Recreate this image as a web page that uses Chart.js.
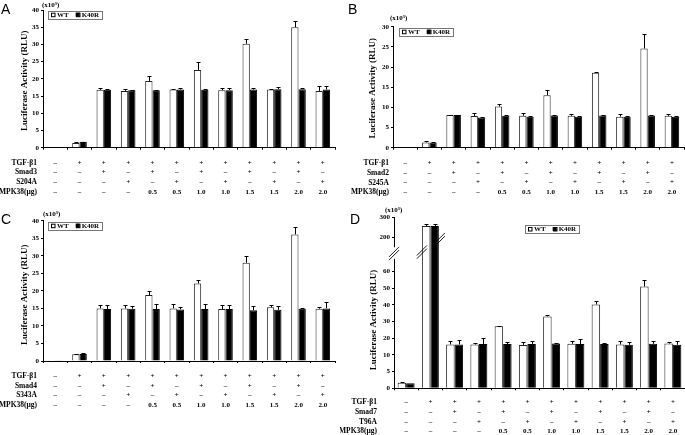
<!DOCTYPE html>
<html>
<head>
<meta charset="utf-8">
<script src="https://cdn.jsdelivr.net/npm/chart.js@4.4.1/dist/chart.umd.min.js"></script>
<style>
  html, body { margin: 0; padding: 0; background: #fff; }
  body { width: 685px; height: 435px; position: relative; overflow: hidden; }
  canvas { position: absolute; }
  .letter { position: absolute; font: 14px "Liberation Sans", Arial, sans-serif; line-height: 14px; color: #000; }
</style>
</head>
<body>
<canvas id="chartA" width="340" height="205" style="left:0;top:0"></canvas>
<canvas id="chartB" width="345" height="205" style="left:340px;top:0"></canvas>
<canvas id="chartC" width="340" height="230" style="left:0;top:205px"></canvas>
<canvas id="chartD" width="345" height="230" style="left:340px;top:205px"></canvas>
<div class="letter" style="left:1px;top:2px">A</div>
<div class="letter" style="left:348px;top:2px">B</div>
<div class="letter" style="left:1px;top:212px">C</div>
<div class="letter" style="left:350px;top:212px">D</div>
<script>
const SERIF = '"Liberation Serif", "Times New Roman", serif';
const TICK_SIZE = 7;
const ROW_LH = 9.7;

// condition table (same pattern in every panel)
const TGF_ROW  = ['–','+','+','+','+','+','+','+','+','+','+','+'];
const SMAD_ROW = ['–','–','+','–','+','–','+','–','+','–','+','–'];
const MUT_ROW  = ['–','–','–','+','–','+','–','+','–','+','–','+'];
const MPK_ROW  = ['–','–','–','–','0.5','0.5','1.0','1.0','1.5','1.5','2.0','2.0'];

const ROWS_A = ['TGF-β1', 'Smad3', 'S204A', 'MPK38(μg)'];
const ROWS_B = ['TGF-β1', 'Smad2', 'S245A', 'MPK38(μg)'];
const ROWS_C = ['TGF-β1', 'Smad4', 'S343A', 'MPK38(μg)'];
const ROWS_D = ['TGF-β1', 'Smad7', 'T96A',  'MPK38(μg)'];

// panel A
const wtA      = [0.1, 1.4, 16.8, 16.5, 19.4, 16.9, 22.6, 16.7, 30.2, 16.9, 35.0, 16.5];
const wtAErr   = [0, 0.2, 0.5, 0.5, 1.3, 0.2, 2.2, 0.7, 1.5, 0.2, 1.7, 1.3];
const k40rA    = [0.1, 1.7, 16.8, 16.7, 16.7, 16.9, 16.8, 16.7, 16.9, 17.0, 17.0, 16.9];
const k40rAErr = [0, 0.1, 0.3, 0.2, 0.2, 0.3, 0.3, 0.6, 0.3, 0.7, 0.4, 0.9];

// panel B
const wtB      = [0.05, 1.3, 8.1, 7.85, 10.2, 7.9, 13.0, 7.9, 18.6, 7.7, 24.6, 7.9];
const wtBErr   = [0, 0.25, 0.1, 0.8, 0.6, 0.7, 1.3, 0.4, 0.15, 0.6, 3.7, 0.4];
const k40rB    = [0.05, 1.3, 8.1, 7.5, 7.9, 7.7, 8.0, 7.7, 8.0, 7.7, 8.0, 7.7];
const k40rBErr = [0, 0.2, 0.1, 0.1, 0.1, 0.2, 0.1, 0.1, 0.1, 0.1, 0.1, 0.1];

// panel C
const wtC      = [0.05, 1.9, 15.0, 15.0, 18.8, 15.0, 22.1, 14.8, 28.0, 15.3, 36.1, 14.9];
const wtCErr   = [0, 0.1, 1.0, 1.0, 1.1, 1.15, 0.9, 1.1, 1.8, 0.6, 2.2, 0.6];
const k40rC    = [0.05, 2.0, 14.8, 14.9, 14.8, 14.7, 14.8, 14.8, 14.5, 14.6, 14.9, 15.0];
const k40rCErr = [0, 0.2, 1.2, 0.7, 1.35, 0.8, 1.35, 1.2, 1.2, 1.1, 0.3, 1.7];

// panel D (broken y axis)
const wtD      = [1.7, 258, 16.3, 16.3, 27.1, 16.0, 33.0, 16.7, 40.2, 16.3, 50.9, 16.9];
const wtDErr   = [0.3, 12, 2.0, 1.0, 0.4, 1.6, 0.8, 1.8, 1.9, 2.0, 4.1, 1.0];
const k40rD    = [1.5, 258, 16.3, 16.5, 16.5, 16.5, 16.9, 16.5, 16.5, 16.1, 16.7, 16.1];
const k40rDErr = [0, 9, 2.4, 3.8, 1.4, 1.6, 0.3, 2.8, 0.8, 1.6, 1.8, 2.2];
const TICKS_D      = [0, 5, 10, 20, 30, 40, 50, 60, 200, 300];
const BREAK_VALUES = [0, 10, 60, 200, 300];
const BREAK_FRACS  = [0, 0.195, 0.685, 0.882, 1];

// piecewise linear axis for the broken scale in D
class BrokenScale extends Chart.LinearScale {
  buildTicks() {
    return TICKS_D.map(v => ({ value: v }));
  }
  toFrac(v) {
    if (v <= BREAK_VALUES[0]) return BREAK_FRACS[0];
    for (let i = 1; i < BREAK_VALUES.length; i++) {
      if (v <= BREAK_VALUES[i]) {
        const t = (v - BREAK_VALUES[i - 1]) / (BREAK_VALUES[i] - BREAK_VALUES[i - 1]);
        return BREAK_FRACS[i - 1] + t * (BREAK_FRACS[i] - BREAK_FRACS[i - 1]);
      }
    }
    return 1;
  }
  getPixelForValue(v) {
    if (v === null || isNaN(v)) return NaN;
    return this.getPixelForDecimal(this.toFrac(v));
  }
  getValueForPixel(p) {
    const d = this.getDecimalForPixel(p);
    for (let i = 1; i < BREAK_FRACS.length; i++) {
      if (d <= BREAK_FRACS[i]) {
        const t = (d - BREAK_FRACS[i - 1]) / (BREAK_FRACS[i] - BREAK_FRACS[i - 1]);
        return BREAK_VALUES[i - 1] + t * (BREAK_VALUES[i] - BREAK_VALUES[i - 1]);
      }
    }
    return BREAK_VALUES[BREAK_VALUES.length - 1];
  }
}
BrokenScale.id = 'broken';
BrokenScale.defaults = {};
Chart.register(BrokenScale);

const PANELS = [
  { id: 'chartA', rows: ROWS_A, wt: wtA, wtErr: wtAErr, k: k40rA, kErr: k40rAErr, yMax: 40,
    padTop: 10, padRight: 5, yWidth: 43, xHeight: 57.3, xPad: 8.2, cat: 0.6,
    rowDx: -6, titleX: 25, titleDy: 2, expoDx: -1, expoDy: -3.5, legDx: 5, legDy: 0.7 },
  { id: 'chartB', rows: ROWS_B, wt: wtB, wtErr: wtBErr, k: k40rB, kErr: k40rBErr, yMax: 30,
    padTop: 26.7, padRight: 0, yWidth: 53, xHeight: 57.3, xPad: 8.7, cat: 0.6,
    rowDx: -4, titleX: 33, titleDy: 1, expoDx: -3, expoDy: -6.7, legDx: 6, legDy: 1 },
  { id: 'chartC', rows: ROWS_C, wt: wtC, wtErr: wtCErr, k: k40rC, kErr: k40rCErr, yMax: 40,
    padTop: 15.7, padRight: 5, yWidth: 43, xHeight: 74, xPad: 8.2, cat: 0.6,
    rowDx: -6, titleX: 25, titleDy: 4, expoDx: 0, expoDy: -4.5, legDx: 5, legDy: 1 },
  { id: 'chartD', rows: ROWS_D, wt: wtD, wtErr: wtDErr, k: k40rD, kErr: k40rDErr, yMax: 300, broken: true,
    padTop: 12.5, padRight: 0, yWidth: 54, xHeight: 46.7, xPad: 7.2, cat: 0.7,
    rowDx: -17, titleX: 33.3, titleDy: 17, expoDx: -9, expoDy: -5.5, legDx: 131, legDy: 7.5 },
];

function slash(ctx, cx, cy) {
  ctx.beginPath();
  [-1.6, 1.6].forEach(off => {
    ctx.moveTo(cx - 5, cy + 5 + off);
    ctx.lineTo(cx + 5, cy - 5 + off);
  });
  ctx.stroke();
}

function panelDeco(p) {
  return {
    id: 'panelDeco',
    afterDatasetsDraw(chart) {
      const { ctx } = chart;
      const ys = chart.scales.y;
      ctx.save();
      ctx.strokeStyle = '#000';
      ctx.lineWidth = 1;
      chart.data.datasets.forEach((ds, di) => {
        chart.getDatasetMeta(di).data.forEach((bar, i) => {
          const e = ds.errors[i];
          if (!e) return;
          const x = Math.round(bar.x) + 0.5;
          const top = Math.round(ys.getPixelForValue(ds.data[i] + e)) + 0.5;
          ctx.beginPath();
          ctx.moveTo(x, bar.y);
          ctx.lineTo(x, top);
          ctx.moveTo(x - 2, top);
          ctx.lineTo(x + 2, top);
          ctx.stroke();
        });
      });
      ctx.restore();
    },
    afterDraw(chart) {
      const { ctx, chartArea: ca } = chart;
      const xs = chart.scales.x;
      ctx.save();
      ctx.fillStyle = '#000';

      // row names of the condition table
      ctx.font = 'bold 7.5px ' + SERIF;
      ctx.textAlign = 'right';
      ctx.textBaseline = 'middle';
      p.rows.forEach((name, i) => {
        ctx.fillText(name, ca.left + p.rowDx, xs.top + 2 + p.xPad + ROW_LH * (i + 0.5));
      });

      // y title
      ctx.font = 'bold 9px ' + SERIF;
      ctx.textAlign = 'center';
      ctx.save();
      ctx.translate(p.titleX, (ca.top + ca.bottom) / 2 + p.titleDy);
      ctx.rotate(-Math.PI / 2);
      ctx.fillText('Luciferase Activity (RLU)', 0, 0);
      ctx.restore();

      // unit
      ctx.font = 'bold 7px ' + SERIF;
      ctx.textAlign = 'left';
      ctx.textBaseline = 'alphabetic';
      ctx.fillText('(x10³)', ca.left + p.expoDx, ca.top + p.expoDy);

      // legend box
      ctx.font = 'bold 7px ' + SERIF;
      ctx.textBaseline = 'middle';
      const lx = ca.left + p.legDx, ly = ca.top + p.legDy, lh = 8;
      let w = 3;
      chart.data.datasets.forEach((ds, i) => {
        w += 4 + 2 + ctx.measureText(ds.label).width + (i ? 3 : 7);
      });
      ctx.fillStyle = '#fff';
      ctx.fillRect(lx, ly, w, lh);
      ctx.strokeStyle = '#777';
      ctx.lineWidth = 1;
      ctx.strokeRect(Math.round(lx) + 0.5, Math.round(ly) + 0.5, Math.round(w), lh);
      let cx = lx + 3;
      chart.data.datasets.forEach((ds, i) => {
        ctx.fillStyle = ds.backgroundColor;
        ctx.fillRect(cx, ly + 2, 4, 4);
        ctx.strokeStyle = '#000';
        ctx.strokeRect(Math.round(cx) + 0.5, ly + 2.5, 3.5, 3.5);
        cx += 6;
        ctx.fillStyle = '#000';
        ctx.fillText(ds.label, cx, ly + lh / 2 + 0.5);
        cx += ctx.measureText(ds.label).width + 7;
      });

      // axis break marks
      if (p.broken) {
        const ys = chart.scales.y;
        const yA = ys.getPixelForValue(160), yB = ys.getPixelForValue(112);
        ctx.fillStyle = '#fff';
        ctx.fillRect(ca.left - 2, yA, 4, yB - yA);
        ctx.strokeStyle = '#000';
        ctx.lineWidth = 0.9;
        slash(ctx, ca.left, ys.getPixelForValue(134));
        const wtBar = chart.getDatasetMeta(0).data[1];
        const kBar = chart.getDatasetMeta(1).data[1];
        slash(ctx, wtBar.x - wtBar.width / 2, ys.getPixelForValue(140));
        slash(ctx, kBar.x + kBar.width / 2 + 1, ys.getPixelForValue(192));
      }
      ctx.restore();
    }
  };
}

PANELS.forEach(p => {
  const labels = TGF_ROW.map((t, i) => [t, SMAD_ROW[i], MUT_ROW[i], MPK_ROW[i]]);
  const yScale = p.broken
    ? { type: 'broken', min: 0, max: p.yMax }
    : { type: 'linear', min: 0, max: p.yMax, ticks: { stepSize: 5 } };

  new Chart(document.getElementById(p.id), {
    type: 'bar',
    data: {
      labels,
      datasets: [
        { label: 'WT', data: p.wt, errors: p.wtErr, backgroundColor: '#fff',
          borderColor: '#222', borderWidth: 1 },
        { label: 'K40R', data: p.k, errors: p.kErr, backgroundColor: '#000',
          borderColor: '#000', borderWidth: 1 },
      ],
    },
    options: {
      responsive: false,
      animation: false,
      layout: { padding: { top: p.padTop, right: p.padRight, left: 0, bottom: 0 } },
      datasets: { bar: { categoryPercentage: p.cat, barPercentage: 1 } },
      plugins: { legend: { display: false }, tooltip: { enabled: false } },
      scales: {
        x: {
          afterFit: s => { s.height = p.xHeight; },
          border: { color: '#000', width: 1 },
          grid: { display: true, drawOnChartArea: false, drawTicks: true, tickLength: 2, color: '#000', offset: true },
          ticks: {
            color: '#000', padding: p.xPad, maxRotation: 0, autoSkip: false,
            font: { family: SERIF, size: TICK_SIZE, weight: 'bold', lineHeight: ROW_LH / TICK_SIZE },
          },
        },
        y: Object.assign(yScale, {
          afterFit: s => { s.width = p.yWidth; },
          border: { color: '#000', width: 1 },
          grid: { display: true, drawOnChartArea: false, drawTicks: true, tickLength: 2, color: '#000' },
          ticks: Object.assign(yScale.ticks || {}, {
            color: '#000', padding: 2, autoSkip: false,
            callback: v => String(v),
            font: { family: SERIF, size: 7, weight: 'bold' },
          }),
        }),
      },
    },
    plugins: [panelDeco(p)],
  });
});
</script>
</body>
</html>
